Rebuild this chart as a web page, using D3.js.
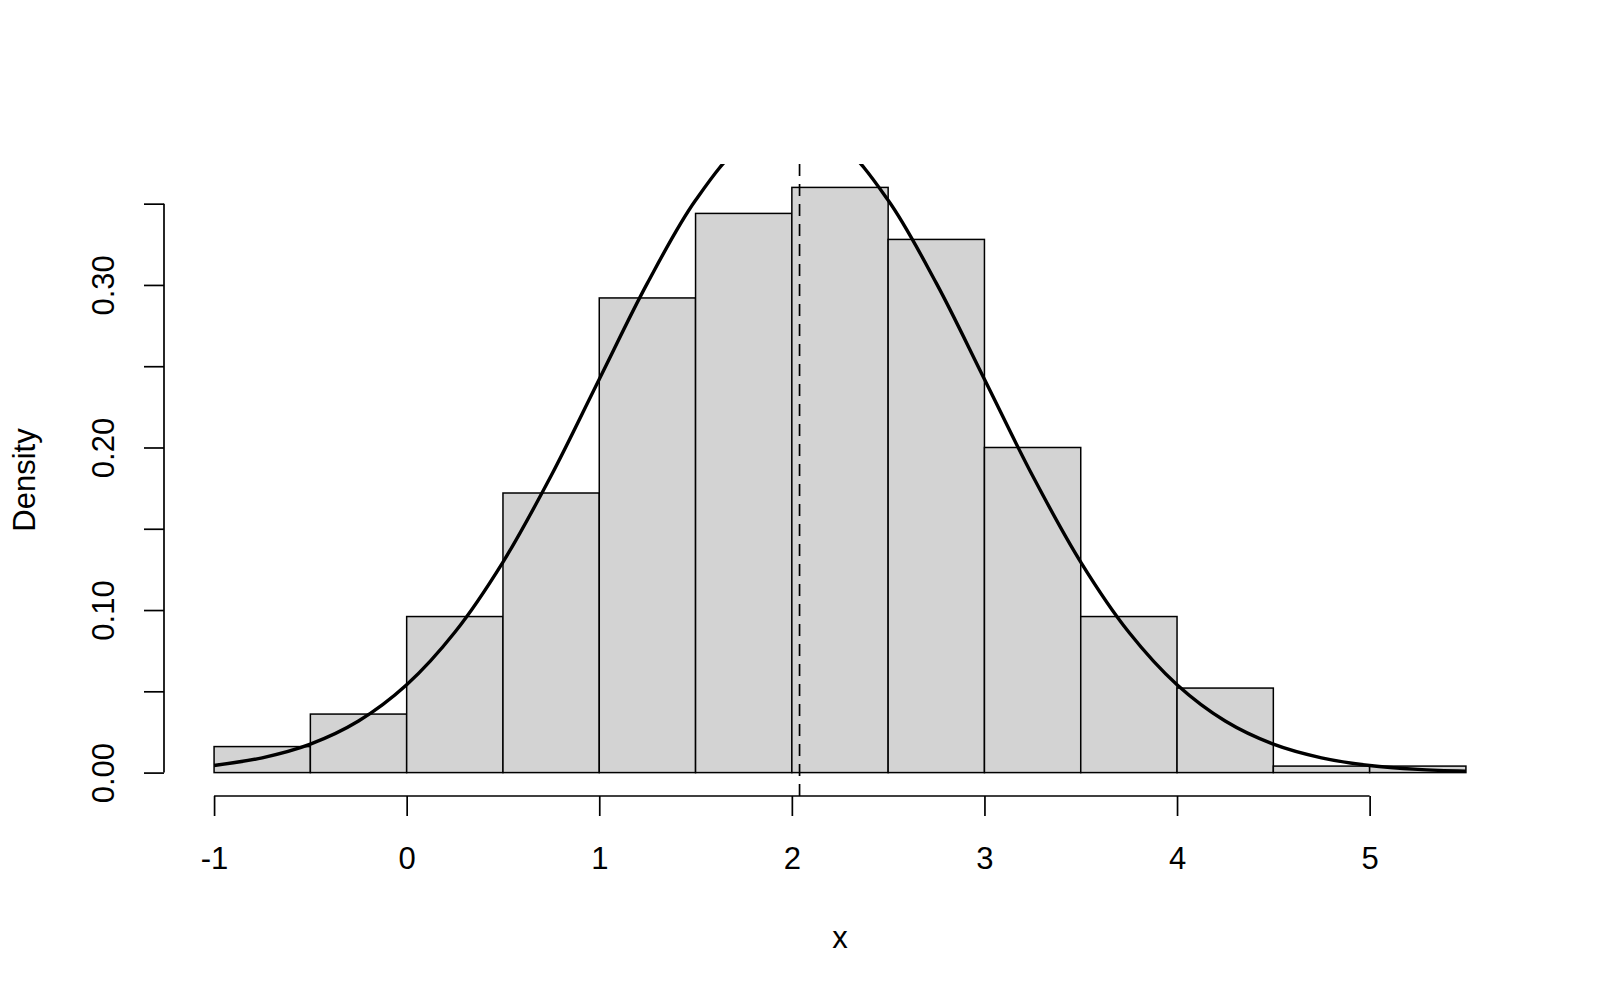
<!DOCTYPE html>
<html>
<head>
<meta charset="utf-8">
<script src="https://cdn.jsdelivr.net/npm/d3@7"></script>
<style>
  html, body { margin: 0; padding: 0; background: #ffffff; }
  svg { display: block; font-family: "Liberation Sans", Arial, Helvetica, sans-serif; }
</style>
</head>
<body>
<svg id="chart" width="1600" height="1000"></svg>
<script>
// ---- data ----
const binStarts = [-1, -0.5, 0, 0.5, 1, 1.5, 2, 2.5, 3, 3.5, 4, 4.5, 5];
const binWidth = 0.5;
const binDensities = [0.016, 0.036, 0.096, 0.172, 0.292, 0.344, 0.360, 0.328, 0.200, 0.096, 0.052, 0.004, 0.004];
const curveX = [-1, -0.75, -0.5, -0.25, 0, 0.25, 0.5, 0.75, 1, 1.25, 1.5, 1.75, 2, 2.25, 2.5, 2.75, 3, 3.25, 3.5, 3.75, 4, 4.25, 4.5, 4.75, 5, 5.25, 5.5];
const curveY = [0.0044, 0.0091, 0.0175, 0.0317, 0.0540, 0.0863, 0.1295, 0.1826, 0.2420, 0.3011, 0.3521, 0.3867, 0.3989, 0.3867, 0.3521, 0.3011, 0.2420, 0.1826, 0.1295, 0.0863, 0.0540, 0.0317, 0.0175, 0.0091, 0.0044, 0.0020, 0.0009];
const meanValue = 2.04;
const xTicks = [-1, 0, 1, 2, 3, 4, 5];
const yTicks = [0, 0.05, 0.10, 0.15, 0.20, 0.25, 0.30, 0.35];
const yTickLabels = ["0.00", "", "0.10", "", "0.20", "", "0.30", ""];
const xTitle = "x";
const yTitle = "Density";

// ---- layout ----
const svg = d3.select("#chart");
const plotLeft = 164, plotRight = 1516, plotTop = 164, plotBottom = 796;
const xDom = [-1, 5.5], yDom = [0, 0.36];
const xPad = (xDom[1] - xDom[0]) * 0.04, yPad = (yDom[1] - yDom[0]) * 0.04;
const x = d3.scaleLinear().domain([xDom[0] - xPad, xDom[1] + xPad]).range([plotLeft, plotRight]);
const y = d3.scaleLinear().domain([yDom[0] - yPad, yDom[1] + yPad]).range([plotBottom, plotTop]);

svg.append("defs").append("clipPath").attr("id", "plotclip")
  .append("rect").attr("x", plotLeft).attr("y", plotTop)
  .attr("width", plotRight - plotLeft).attr("height", plotBottom - plotTop);

// bars
svg.append("g").selectAll("rect").data(binStarts).join("rect")
  .attr("x", (d) => x(d))
  .attr("y", (d, i) => y(binDensities[i]))
  .attr("width", (d) => x(d + binWidth) - x(d))
  .attr("height", (d, i) => y(0) - y(binDensities[i]))
  .attr("fill", "#D3D3D3")
  .attr("stroke", "#000")
  .attr("stroke-width", 1.5);

// density curve
const line = d3.line().x((d) => x(d[0])).y((d) => y(d[1])).curve(d3.curveCatmullRom);
svg.append("path")
  .datum(curveX.map((v, i) => [v, curveY[i]]))
  .attr("d", line)
  .attr("clip-path", "url(#plotclip)")
  .attr("fill", "none")
  .attr("stroke", "#000")
  .attr("stroke-width", 3.4);

// mean line
svg.append("line")
  .attr("x1", x(meanValue)).attr("x2", x(meanValue))
  .attr("y1", plotTop).attr("y2", plotBottom)
  .attr("stroke", "#000")
  .attr("stroke-width", 1.7)
  .attr("stroke-dasharray", "12,8");

// x axis
const xAxis = d3.axisBottom(x).tickValues(xTicks).tickSize(20).tickPadding(0).tickFormat(d3.format("d"));
const gx = svg.append("g").attr("transform", `translate(0,${plotBottom})`).call(xAxis);
gx.select(".domain").remove();
gx.append("line")
  .attr("x1", x(xTicks[0])).attr("x2", x(xTicks[xTicks.length - 1]))
  .attr("y1", 0).attr("y2", 0).attr("stroke", "#000").attr("stroke-width", 1.7);
gx.selectAll(".tick line").attr("stroke", "#000").attr("stroke-width", 1.7);
gx.selectAll(".tick text")
  .attr("y", 73).attr("dy", 0)
  .attr("font-size", 31).attr("fill", "#000")
  .attr("font-family", "Liberation Sans, Arial, sans-serif")
  .text((d) => d < 0 ? "-" + Math.abs(d) : String(d));

// y axis
const yAxis = d3.axisLeft(y).tickValues(yTicks).tickSize(20).tickPadding(0)
  .tickFormat((d, i) => yTickLabels[i]);
const gy = svg.append("g").attr("transform", `translate(${plotLeft},0)`).call(yAxis);
gy.select(".domain").remove();
gy.append("line")
  .attr("x1", 0).attr("x2", 0)
  .attr("y1", y(yTicks[0])).attr("y2", y(yTicks[yTicks.length - 1]))
  .attr("stroke", "#000").attr("stroke-width", 1.7);
gy.selectAll(".tick line").attr("stroke", "#000").attr("stroke-width", 1.7);
gy.selectAll(".tick text")
  .attr("x", 0).attr("dy", 0)
  .attr("transform", "translate(-50,0) rotate(-90)")
  .attr("text-anchor", "middle")
  .attr("font-size", 31).attr("fill", "#000")
  .attr("font-family", "Liberation Sans, Arial, sans-serif");

// titles
svg.append("text")
  .attr("x", (plotLeft + plotRight) / 2).attr("y", 948)
  .attr("text-anchor", "middle").attr("font-size", 31).attr("fill", "#000")
  .text(xTitle);
svg.append("text")
  .attr("transform", `translate(35,${(plotTop + plotBottom) / 2}) rotate(-90)`)
  .attr("text-anchor", "middle").attr("font-size", 31).attr("fill", "#000")
  .text(yTitle);
</script>
</body>
</html>
